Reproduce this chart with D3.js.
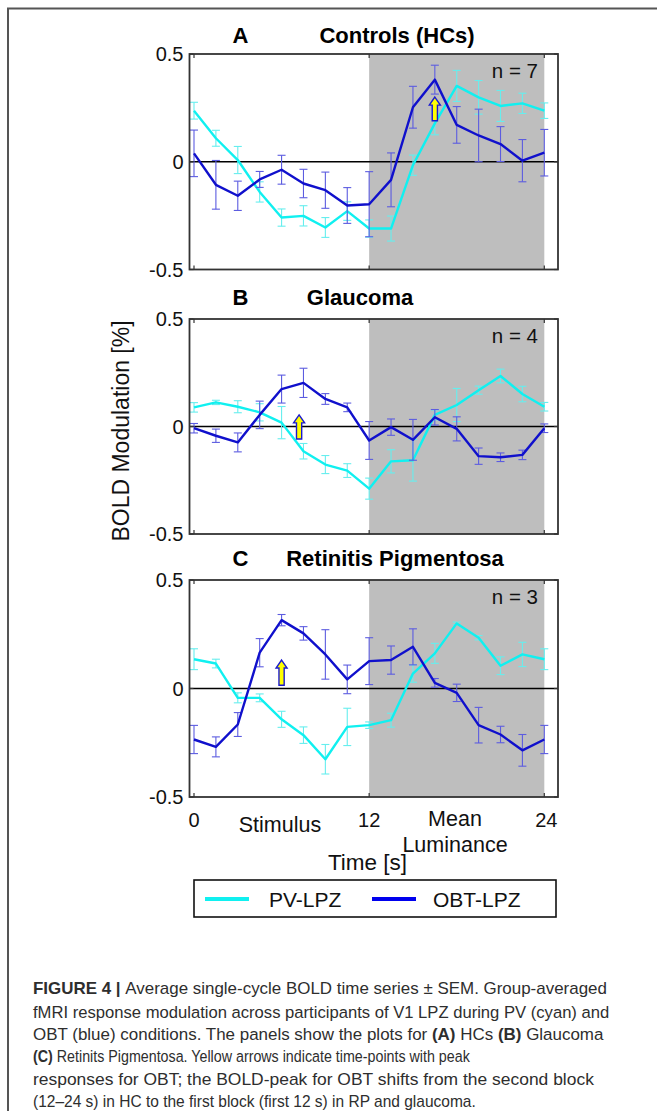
<!DOCTYPE html>
<html><head><meta charset="utf-8">
<script src="https://cdn.jsdelivr.net/npm/d3@7"></script>
<style>body{margin:0;background:#fff}svg{display:block}</style>
</head><body>
<svg id="chart" width="657" height="1111"></svg>
<script>
// ---------- data ----------
const time = [0,1.5,3,4.5,6,7.5,9,10.5,12,13.5,15,16.5,18,19.5,21,22.5,24];
const xTicks = [0,12,24];
const yTicks = [0.5,0,-0.5];
const yTickLabels = ["0.5","0","-0.5"];
const seriesNames = ["PV-LPZ","OBT-LPZ"];
const panelLetters = ["A","B","C"];
const panelTitles = ["Controls (HCs)","Glaucoma","Retinitis Pigmentosa"];
const panelN = ["n = 7","n = 4","n = 3"];

const pvA  = [0.237,0.109,0.008,-0.14,-0.259,-0.251,-0.305,-0.229,-0.31,-0.31,-0.016,0.178,0.352,0.299,0.259,0.271,0.237];
const pvAe = [0.039,0.037,0.063,0.047,0.04,0.047,0.046,0.043,0.04,0.058,0.047,0.053,0.072,0.078,0.072,0.047,0.036];
const obA  = [0.039,-0.107,-0.158,-0.082,-0.037,-0.101,-0.132,-0.203,-0.197,-0.084,0.253,0.381,0.171,0.122,0.082,0.005,0.042];
const obAe = [0.108,0.113,0.068,0.037,0.067,0.066,0.084,0.083,0.151,0.125,0.097,0.067,0.085,0.122,0.081,0.098,0.108];

const pvB  = [0.089,0.112,0.092,0.066,0.018,-0.115,-0.177,-0.205,-0.289,-0.162,-0.157,0.054,0.1,0.169,0.235,0.151,0.092];
const pvBe = [0.022,0.01,0.028,0.04,0.075,0.036,0.042,0.032,0.049,0.054,0.097,0.023,0.077,0.019,0.032,0.036,0.02];
const obB  = [-0.008,-0.043,-0.074,0.054,0.174,0.203,0.128,0.089,-0.065,-0.003,-0.062,0.043,-0.011,-0.138,-0.143,-0.132,-0.008];
const obBe = [0.022,0.031,0.044,0.064,0.065,0.068,0.025,0.02,0.088,0.038,0.095,0.036,0.056,0.038,0.02,0.022,0.02];

const pvC  = [0.135,0.115,-0.043,-0.043,-0.142,-0.215,-0.326,-0.177,-0.169,-0.146,0.069,0.162,0.3,0.234,0.105,0.157,0.135];
const pvCe = [0.048,0.02,0.023,0.018,0.037,0.038,0.068,0.086,0.015,0.032,0.04,0.046,0.006,0.01,0.041,0.056,0.048];
const obC  = [-0.235,-0.269,-0.166,0.165,0.315,0.254,0.157,0.042,0.126,0.131,0.192,0.026,-0.02,-0.169,-0.212,-0.285,-0.235];
const obCe = [0.065,0.046,0.055,0.065,0.026,0.031,0.114,0.066,0.108,0.065,0.083,0.02,0.04,0.082,0.038,0.073,0.065];

// arrows: [time, base value, tip value]
const arrowA = [16.5, 0.19, 0.30];
const arrowB = [7.2, -0.058, 0.054];
const arrowC = [6, 0.015, 0.131];

const shadeRange = [12, 24];

const captionLines = [
  [["FIGURE 4 | ",true],["Average single-cycle BOLD time series \u00b1 SEM. Group-averaged",false]],
  [["fMRI response modulation across participants of V1 LPZ during PV (cyan) and",false]],
  [["OBT (blue) conditions. The panels show the plots for ",false],["(A)",true],[" HCs ",false],["(B)",true],[" Glaucoma",false]],
  [["(C)",true],[" Retinits Pigmentosa. Yellow arrows indicate time-points with peak",false]],
  [["responses for OBT; the BOLD-peak for OBT shifts from the second block",false]],
  [["(12\u201324 s) in HC to the first block (first 12 s) in RP and glaucoma.",false]]
];

// ---------- layout / style ----------
const panels = [
  {pv:pvA, pve:pvAe, ob:obA, obe:obAe, arrow:arrowA, top:54, bottom:269.5, titleY:43, titleX:397},
  {pv:pvB, pve:pvBe, ob:obB, obe:obBe, arrow:arrowB, top:319, bottom:534, titleY:305, titleX:360},
  {pv:pvC, pve:pvCe, ob:obC, obe:obCe, arrow:arrowC, top:580, bottom:797, titleY:566, titleX:395}
];
const frameLeft = 189.5, frameRight = 558;
const cyan = "#10f0f0", blue = "#1010cc";
const cyanBar = "#66eeee", blueBar = "#5c5ce0";
const FONT = "'Liberation Sans', Arial, sans-serif";

const svg = d3.select("#chart");
svg.append("rect").attr("width",657).attr("height",1111).attr("fill","#fff");

// outer frame (left + top)
svg.append("path").attr("d","M8,1111V8.5H657").attr("fill","none").attr("stroke","#555").attr("stroke-width",2);

const x = d3.scaleLinear().domain([0,24]).range([194,544.3]);

panels.forEach((p,i) => {
  const y = d3.scaleLinear().domain([-0.5,0.5]).range([p.bottom,p.top]);
  const g = svg.append("g");
  g.append("rect").attr("x",x(shadeRange[0])).attr("y",p.top)
    .attr("width",x(shadeRange[1])-x(shadeRange[0])).attr("height",p.bottom-p.top)
    .attr("fill","#bebebe");
  g.append("line").attr("x1",frameLeft).attr("x2",frameRight).attr("y1",y(0)).attr("y2",y(0))
    .attr("stroke","#000").attr("stroke-width",1.6);

  const drawSeries = (vals, errs, col, barCol) => {
    const eb = g.append("g").attr("stroke",barCol).attr("stroke-width",1.1).attr("fill","none");
    time.forEach((t,k) => {
      const xx = x(t), y1 = y(vals[k]-errs[k]), y2 = y(vals[k]+errs[k]);
      eb.append("line").attr("x1",xx).attr("x2",xx).attr("y1",y1).attr("y2",y2);
      eb.append("line").attr("x1",xx-4).attr("x2",xx+4).attr("y1",y1).attr("y2",y1);
      eb.append("line").attr("x1",xx-4).attr("x2",xx+4).attr("y1",y2).attr("y2",y2);
    });
    g.append("path").datum(time.map((t,k)=>[t,vals[k]]))
      .attr("d", d3.line().x(d=>x(d[0])).y(d=>y(d[1])))
      .attr("fill","none").attr("stroke",col).attr("stroke-width",2.4).attr("stroke-linejoin","round");
  };
  drawSeries(p.pv, p.pve, cyan, cyanBar);
  drawSeries(p.ob, p.obe, blue, blueBar);

  const ax = x(p.arrow[0]), yb = y(p.arrow[1]), yt = y(p.arrow[2]);
  const hh = 8, hw = 5.5, sw = 2.6;
  g.append("path")
    .attr("d",`M${ax},${yt}L${ax+hw},${yt+hh}L${ax+sw},${yt+hh}L${ax+sw},${yb}L${ax-sw},${yb}L${ax-sw},${yt+hh}L${ax-hw},${yt+hh}Z`)
    .attr("fill","#ffff00").attr("stroke","#1a1ad0").attr("stroke-width",1.4).attr("stroke-linejoin","miter");

  g.append("rect").attr("x",frameLeft).attr("y",p.top).attr("width",frameRight-frameLeft).attr("height",p.bottom-p.top)
    .attr("fill","none").attr("stroke","#333").attr("stroke-width",1.8);
  const tk = g.append("g").attr("stroke","#333").attr("stroke-width",1.2);
  xTicks.forEach(t => {
    tk.append("line").attr("x1",x(t)).attr("x2",x(t)).attr("y1",p.bottom).attr("y2",p.bottom-4);
    tk.append("line").attr("x1",x(t)).attr("x2",x(t)).attr("y1",p.top).attr("y2",p.top+4);
  });
  yTicks.forEach(v => {
    tk.append("line").attr("x1",frameLeft).attr("x2",frameLeft+4).attr("y1",y(v)).attr("y2",y(v));
    tk.append("line").attr("x1",frameRight).attr("x2",frameRight-4).attr("y1",y(v)).attr("y2",y(v));
  });
  yTicks.forEach((v,k) => {
    g.append("text").attr("x",183.5).attr("y",y(v)).attr("dy","0.36em")
      .attr("text-anchor","end").attr("font-family",FONT).attr("font-size",20).attr("fill","#111")
      .text(yTickLabels[k]);
  });
  g.append("text").attr("x",240.5).attr("y",p.titleY).attr("text-anchor","middle")
    .attr("font-family",FONT).attr("font-weight","bold").attr("font-size",22).text(panelLetters[i]);
  g.append("text").attr("x",p.titleX).attr("y",p.titleY).attr("text-anchor","middle")
    .attr("font-family",FONT).attr("font-weight","bold").attr("font-size",22).text(panelTitles[i]);
  g.append("text").attr("x",538).attr("y",p.top+24).attr("text-anchor","end")
    .attr("font-family",FONT).attr("font-size",20.5).attr("fill","#111").text(panelN[i]);
});

const xt = svg.append("g").attr("font-family",FONT).attr("font-size",20).attr("fill","#111").attr("text-anchor","middle");
xTicks.forEach(t => xt.append("text").attr("x",x(t)+ (t===24?2:0)).attr("y",826.5).text(String(t)));
const lab = svg.append("g").attr("font-family",FONT).attr("font-size",21.5).attr("fill","#111").attr("text-anchor","middle");
lab.append("text").attr("x",280).attr("y",831.5).text("Stimulus");
lab.append("text").attr("x",455).attr("y",826).text("Mean");
lab.append("text").attr("x",455).attr("y",851.5).text("Luminance");
lab.append("text").attr("x",367.5).attr("y",870).attr("font-size",22.5).text("Time [s]");

svg.append("text").attr("transform","translate(129,431) rotate(-90)").attr("text-anchor","middle")
  .attr("font-family",FONT).attr("font-size",23).attr("fill","#111").text("BOLD Modulation [%]");

const lg = svg.append("g");
lg.append("rect").attr("x",194).attr("y",880).attr("width",362).attr("height",37)
  .attr("fill","#fff").attr("stroke","#111").attr("stroke-width",1.6);
[[205,249,269,cyan],[372,416,433,"#0000ee"]].forEach((c,k) => {
  lg.append("line").attr("x1",c[0]).attr("x2",c[1]).attr("y1",899).attr("y2",899)
    .attr("stroke",c[3]).attr("stroke-width",4);
  lg.append("text").attr("x",c[2]).attr("y",907).attr("font-family",FONT).attr("font-size",21)
    .attr("fill","#111").text(seriesNames[k]);
});

// caption
const capTargets = [574, 577, 571, 437, 561, 443];
const capY = [994, 1018, 1040, 1062, 1085, 1107];
captionLines.forEach((line,k) => {
  const t = svg.append("text").attr("x",0).attr("y",0)
    .attr("font-family",FONT).attr("font-size",17).attr("fill","#2e2e2e");
  line.forEach(seg => t.append("tspan").attr("font-weight",seg[1]?"bold":"normal").text(seg[0]));
  const w = t.node().getComputedTextLength();
  t.attr("transform",`translate(33,${capY[k]}) scale(${capTargets[k]/w},1)`);
});
</script>
</body></html>
